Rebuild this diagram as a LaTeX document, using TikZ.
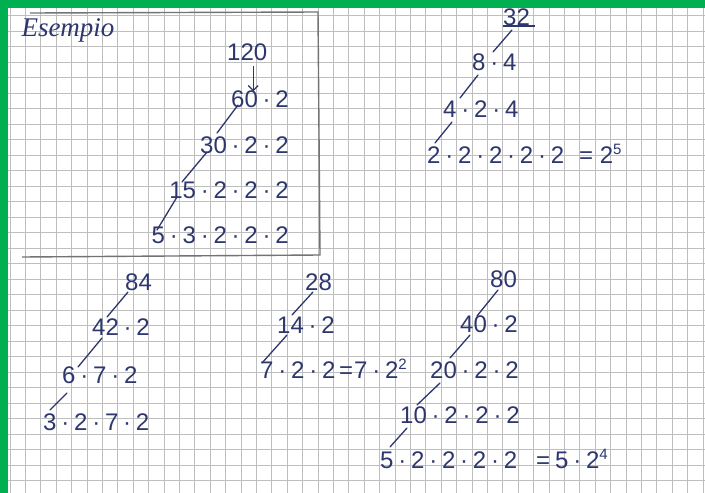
\documentclass[tikz,border=0pt]{standalone}
\usepackage{fontspec}
\setmainfont{Liberation Sans}
\newfontfamily\serifhand{Liberation Serif}
\usetikzlibrary{arrows.meta}
\definecolor{ink}{RGB}{45,55,110}
\definecolor{gridc}{RGB}{190,190,190}
\definecolor{boxc}{RGB}{115,115,115}
\definecolor{greenb}{RGB}{0,176,80}
\newcommand\myexp[1]{\raisebox{8.5pt}{\fontsize{15}{15}\selectfont #1}}
\newcommand\sep{\hspace{0.2em}·\hspace{0.2em}}
\tikzset{
  num/.style={text=ink, font=\fontsize{24}{24}\selectfont, inner sep=0pt, anchor=base west},
  numr/.style={num, anchor=base east},
  slash/.style={draw=ink, line width=1.3pt, line cap=round},
  gridl/.style={draw=gridc, line width=0.9pt},
  boxl/.style={draw=boxc, line width=1.4pt},
  arr/.style={draw=ink, line width=1.3pt, -{Straight Barb[length=5pt,width=10pt]}}
}
\begin{document}
\begin{tikzpicture}[x=1pt,y=-1pt]
\useasboundingbox (0,0) rectangle (705,493);
\fill[white] (0,0) rectangle (705,493);
% grid
\foreach \k in {0,...,45} \draw[gridl] ({10+15.4*\k},0) -- ({10+15.4*\k},493);
\foreach \k in {0,...,31} \draw[gridl] (0,{15.6+15.5*\k}) -- (705,{15.6+15.5*\k});
% example box
\draw[boxl] (30,13) -- (318,12) -- (320,255) -- (22,257);
\node[text=ink, font=\serifhand\itshape\fontsize{27}{27}\selectfont, inner sep=0pt] (title) at (68,30) {Esempio};
% example 120
\node[num] (n120) at (227,60) {120};
\node[numr] (n60) at (289,107) {60\sep 2};
\node[numr] (n30) at (289,153) {30\sep 2\sep 2};
\node[numr] (n15) at (289,198) {15\sep 2\sep 2\sep 2};
\node[numr] (n5) at (289,243) {5\sep 3\sep 2\sep 2\sep 2};
\draw[arr] ([shift={(6,6)}]n120.south) -- ([shift={(6,31)}]n120.south);
% 32
\node[num] (m32) at (503,25) {32};
\coordinate (u1) at (503,26); \coordinate (u2) at (535,26);
\draw[draw=ink, line width=1.2pt] (u1) -- (u2);
\node[num] (m8) at (472,70) {8\sep 4};
\node[num] (m4) at (443,117) {4\sep 2\sep 4};
\node[num] (m2) at (427,163) {2\sep 2\sep 2\sep 2\sep 2};
\node[num] (m2e) at (579,163) {= 2\myexp{5}};
% 84
\node[num] (a84) at (125,290) {84};
\node[num] (a42) at (92,335) {42\sep 2};
\node[num] (a6) at (62,383) {6\sep 7\sep 2};
\node[num] (a3) at (43,430) {3\sep 2\sep 7\sep 2};
% 28
\node[num] (b28) at (305,290) {28};
\node[num] (b14) at (277,333) {14\sep 2};
\node[num] (b7) at (260,378) {7\sep 2\sep 2};
\node[num] (b7e) at (339,378) {=};
\node[num] (b7f) at (354,378) {7\sep 2\myexp{2}};
% 80
\node[num] (c80) at (490,287) {80};
\node[num] (c40) at (460,332) {40\sep 2};
\node[num] (c20) at (430,378) {20\sep 2\sep 2};
\node[num] (c10) at (400,423) {10\sep 2\sep 2\sep 2};
\node[num] (c5) at (380,468) {5\sep 2\sep 2\sep 2\sep 2};
\node[num] (c5e) at (536,468) {=};
\node[num] (c5f) at (555,468) {5\sep 2\myexp{4}};
% slashes
\foreach \i/\ax/\ay/\bx/\by in {
  1/238/105/217/133, 2/207/152/182/182, 3/177/197/157/230,
  4/512/30/493/52, 5/478/75/460/98, 6/452/122/435/143,
  7/128/292/107/317, 8/102/338/78/367, 9/67/393/50/410,
  10/313/292/292/315, 11/287/335/262/363,
  12/498/290/477/316, 13/470/335/450/358, 14/440/383/417/405, 15/407/428/390/447}
{
  \coordinate (p\i) at (\ax,\ay);
  \coordinate (q\i) at (\bx,\by);
  \draw[slash] (p\i) -- (q\i);
}
% green border
\fill[greenb] (0,0) rectangle (705,8);
\fill[greenb] (0,0) rectangle (8,493);
\end{tikzpicture}
\end{document}
